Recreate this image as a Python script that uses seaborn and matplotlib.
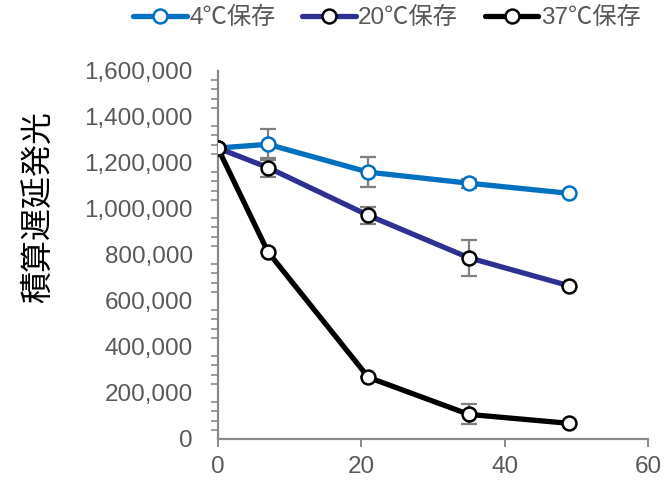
import matplotlib
matplotlib.use("Agg")
import matplotlib.pyplot as plt
from matplotlib.ticker import FuncFormatter, MultipleLocator
import seaborn as sns
import pandas as pd

# Storage time (days) and integrated delayed luminescence per storage temperature
days = [0, 7, 21, 35, 49]
labels = ["4℃保存", "20℃保存", "37℃保存"]
lum_4c = [1265000, 1281000, 1160000, 1112000, 1068000]
lum_20c = [1265000, 1180000, 972000, 788000, 666000]
lum_37c = [1265000, 813000, 268000, 107000, 68000]
err_4c = [0, 67000, 65000, 20000, 0]
err_20c = [0, 40000, 38000, 78000, 0]
err_37c = [0, 0, 0, 43000, 0]

line_colors = ["#0070C0", "#2E3192", "#000000"]
edge_colors = ["#0070C0", "#000000", "#000000"]

sns.set_theme(style="white")
plt.rcParams["font.family"] = ["Liberation Sans", "Noto Sans CJK JP"]

fig = plt.figure(figsize=(6.64, 4.83), dpi=100)
ax = fig.add_axes([0.328, 0.0911, 0.648, 0.762])

series = [lum_4c, lum_20c, lum_37c]
errors = [err_4c, err_20c, err_37c]

for lab, vals, errs, lc, ec in zip(labels, series, errors, line_colors, edge_colors):
    df = pd.DataFrame({"day": days, "lum": vals})
    sns.lineplot(data=df, x="day", y="lum", ax=ax, color=lc, linewidth=3.8,
                 marker="o", markersize=10, markerfacecolor="white",
                 markeredgecolor=ec, markeredgewidth=1.8, label=lab, zorder=3)
    ax.errorbar(days, vals, yerr=errs, fmt="none", ecolor="#7F7F7F",
                elinewidth=1.6, capsize=5.5, capthick=1.6, zorder=2)

ax.set_xlim(0, 60)
ax.set_ylim(0, 1600000)
ax.xaxis.set_major_locator(MultipleLocator(20))
ax.yaxis.set_major_locator(MultipleLocator(200000))
ax.yaxis.set_minor_locator(MultipleLocator(40000))
ax.yaxis.set_major_formatter(FuncFormatter(lambda v, p: f"{int(v):,}"))

for side in ["top", "right"]:
    ax.spines[side].set_visible(False)
for side in ["left", "bottom"]:
    ax.spines[side].set_color("#898989")
    ax.spines[side].set_linewidth(1.6)

ax.tick_params(axis="both", which="major", direction="out", length=6, width=1.4,
               color="#898989", labelcolor="#595959", labelsize=17.5)
ax.tick_params(axis="y", which="major", pad=12)
ax.tick_params(axis="x", which="major", pad=6, bottom=True)
ax.tick_params(axis="y", which="minor", direction="out", length=5, width=1.2,
               color="#898989", left=True)

ax.set_xlabel("")
ax.set_ylabel("積算遅延発光", fontsize=23, color="#000000",
              family=["Noto Sans CJK JP", "DejaVu Sans"])
ax.yaxis.set_label_coords(-0.38, 0.63)

leg = ax.legend(loc="center", bbox_to_anchor=(0.393, 1.144), ncol=3, frameon=False,
                fontsize=17.5, handlelength=2.2, handletextpad=0.1,
                columnspacing=1.1, borderaxespad=0)
for t in leg.get_texts():
    t.set_color("#595959")

fig.savefig("out.png", dpi=100)
